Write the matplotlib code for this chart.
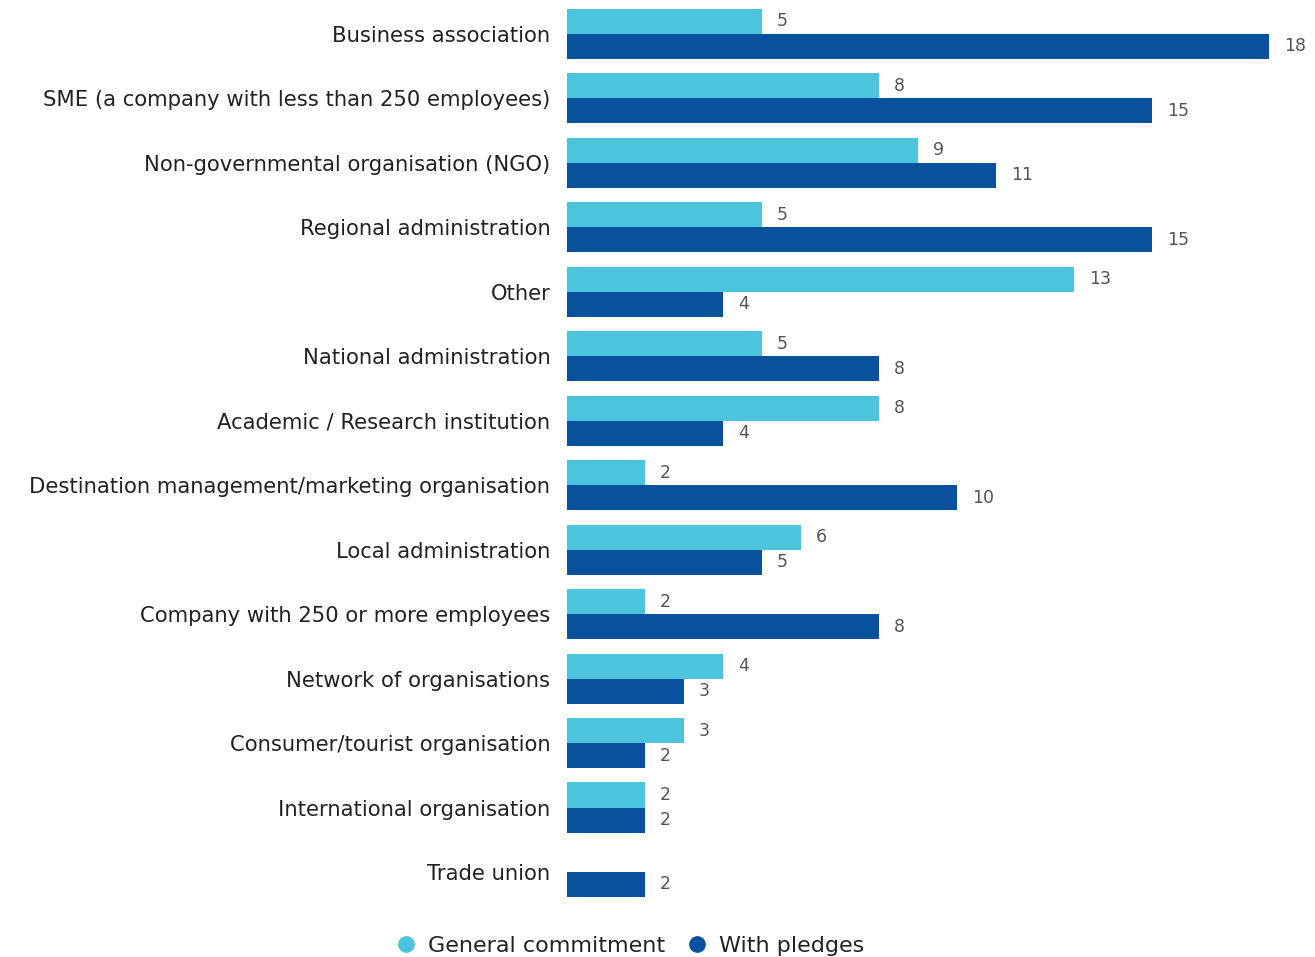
import numpy as np
import matplotlib
matplotlib.use("Agg")
import matplotlib.pyplot as plt
from matplotlib.lines import Line2D

categories = [
    "Business association",
    "SME (a company with less than 250 employees)",
    "Non-governmental organisation (NGO)",
    "Regional administration",
    "Other",
    "National administration",
    "Academic / Research institution",
    "Destination management/marketing organisation",
    "Local administration",
    "Company with 250 or more employees",
    "Network of organisations",
    "Consumer/tourist organisation",
    "International organisation",
    "Trade union",
]
general = [5, 8, 9, 5, 13, 5, 8, 2, 6, 2, 4, 3, 2, 0]
pledges = [18, 15, 11, 15, 4, 8, 4, 10, 5, 8, 3, 2, 2, 2]

LIGHT = "#4cc4dd"
DARK = "#08519d"

plt.rcParams['font.family'] = ['DejaVu Sans']

fig = plt.figure(figsize=(13.15, 9.57), dpi=100)
ax = fig.add_axes([567 / 1315, 1 - 910 / 957, (1313 - 567) / 1315, 910 / 957])

y = np.arange(len(categories))
h = 0.388
for i in range(len(categories)):
    if general[i] > 0:
        ax.barh(y[i] - h / 2, general[i], height=h, color=LIGHT)
        ax.text(general[i] + 0.38, y[i] - h / 2, str(general[i]), va='center', ha='left',
                fontsize=12.5, color='#555555')
    ax.barh(y[i] + h / 2, pledges[i], height=h, color=DARK)
    ax.text(pledges[i] + 0.38, y[i] + h / 2, str(pledges[i]), va='center', ha='left',
            fontsize=12.5, color='#555555')

ax.set_xlim(0, (1313 - 567) / 39)
ax.set_ylim(13.59, -0.527)
ax.set_yticks(y)
ax.set_yticklabels(categories, fontsize=15.2, color='#222222')
ax.tick_params(axis='y', length=0, pad=12)
ax.set_xticks([])
for s in ax.spines.values():
    s.set_visible(False)

handles = [
    Line2D([], [], marker='o', linestyle='', markersize=11, color=LIGHT),
    Line2D([], [], marker='o', linestyle='', markersize=11, color=DARK),
]
fig.legend(handles, ["General commitment", "With pledges"], loc='center',
           bbox_to_anchor=(624 / 1315, 1 - 946 / 957), ncol=2, frameon=False,
           fontsize=16, handletextpad=0.0, columnspacing=0.4, labelcolor='#222222')

fig.savefig("out.png", dpi=100)
